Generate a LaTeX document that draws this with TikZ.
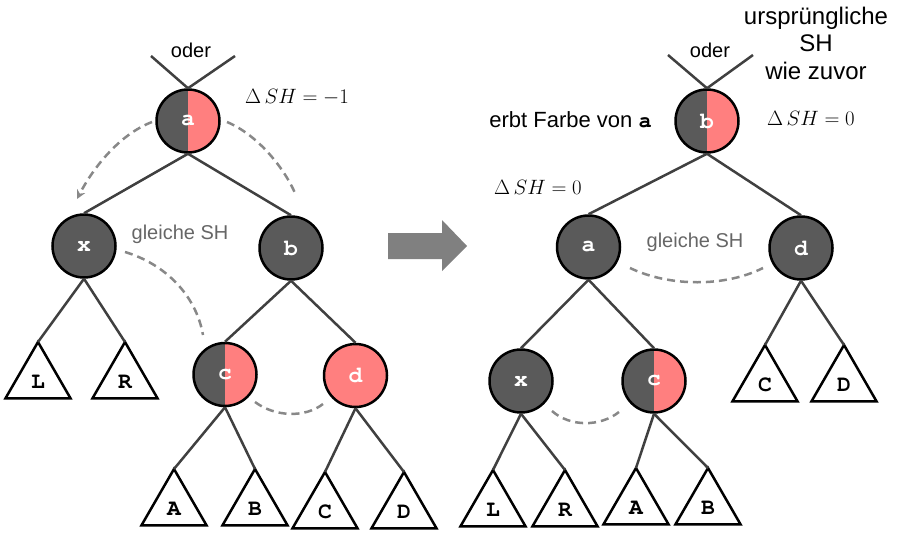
\documentclass[tikz,border=0pt]{standalone}
\usepackage{fontspec}
\setmainfont{Liberation Sans}
\newfontfamily\cour{TeX Gyre Cursor}
\usetikzlibrary{arrows.meta,shapes.geometric}
\definecolor{nodedark}{HTML}{5A5A5A}
\definecolor{nodered}{HTML}{FF7F7F}
\definecolor{edgecol}{HTML}{404040}
\definecolor{dashcol}{HTML}{888888}
\definecolor{arrcol}{HTML}{808080}
\definecolor{labgray}{HTML}{666666}
\begin{document}
\begin{tikzpicture}[x=1pt,y=-1pt,
  rb/.style={circle, draw=black, line width=2.5pt, minimum size=63pt, inner sep=0pt,
    fill=nodedark, text=white, font=\cour\bfseries\fontsize{23}{26}\selectfont},
  halfnode/.style={rb, fill=none, path picture={
    \fill[nodedark] (path picture bounding box.south west) rectangle (path picture bounding box.north);
    \fill[nodered] (path picture bounding box.south) rectangle (path picture bounding box.north east);}},
  rednode/.style={rb, fill=nodered},
  tri/.style={regular polygon, regular polygon sides=3, draw=black, line width=2.5pt,
    minimum size=75pt, inner sep=0pt, outer sep=0pt, text height=18pt, text depth=0pt,
    font=\cour\bfseries\fontsize{23}{26}\selectfont, text=black},
  edgeline/.style={draw=edgecol, line width=2.5pt},
  dsh/.style={draw=dashcol, line width=2.5pt, dash pattern=on 8pt off 5pt},
  txt/.style={font=\fontsize{20}{24}\selectfont, inner sep=0pt},
  mathtxt/.style={font=\fontsize{20.5}{24}\selectfont, inner sep=0pt},
]
\useasboundingbox (0,0) rectangle (899,541);

% ---------------- left tree ----------------
\node[halfnode] (La) at (188,121) {a};
\node[rb] (Lx) at (84,246) {x};
\node[rb] (Lb) at (291,248) {b};
\node[halfnode] (Lc) at (225,374.5) {c};
\node[rednode] (Ld) at (355.5,375.5) {d};

\node[tri] (LL) at (38,379.5) {L};
\node[tri] (LR) at (125,379.5) {R};
\node[tri] (LA) at (174,506.5) {A};
\node[tri] (LB) at (255,506.5) {B};
\node[tri] (LC) at (325,509.5) {C};
\node[tri] (LD) at (404,509.5) {D};

\coordinate (Lo1) at (151,56);
\coordinate (Lo2) at (235,56);
\draw[edgeline] (Lo1) -- (La.north);
\draw[edgeline] (Lo2) -- (La.north);
\node[txt] (Loder) at (191,50) {oder};

\draw[edgeline] (La.south) -- (Lx.north);
\draw[edgeline] (La.south) -- (Lb.north);
\draw[edgeline] (Lx.south) -- (LL.north);
\draw[edgeline] (Lx.south) -- (LR.north);
\draw[edgeline] (Lb.south) -- (Lc.north);
\draw[edgeline] (Lb.south) -- (Ld.north);
\draw[edgeline] (Lc.south) -- (LA.north);
\draw[edgeline] (Lc.south) -- (LB.north);
\draw[edgeline] (Ld.south) -- (LC.north);
\draw[edgeline] (Ld.south) -- (LD.north);

\node[mathtxt] (Ldelta) at (297,97) {$\Delta\,SH = -1$};
\node[txt, text=labgray] (Lgleich) at (180,234) {gleiche SH};

\coordinate (Ld1s) at (152,122);
\coordinate (Ld1e) at (77,199);
\draw[dsh, -{Stealth[length=9pt,width=9pt]}] (Ld1s) .. controls (118,135) and (92,170) .. (Ld1e);
\coordinate (Ld2s) at (227,122);
\coordinate (Ld2e) at (295,193);
\draw[dsh] (Ld2s) .. controls (258,135) and (284,168) .. (Ld2e);
\coordinate (Ld3s) at (125,252);
\coordinate (Ld3e) at (203,335);
\draw[dsh] (Ld3s) .. controls (165,264) and (196,295) .. (Ld3e);
\coordinate (Ld4s) at (255,402);
\coordinate (Ld4e) at (323,404);
\draw[dsh] (Ld4s) .. controls (275,417) and (305,418) .. (Ld4e);

% ---------------- big arrow ----------------
\fill[arrcol] (388,233) -- (442,233) -- (442,220) -- (467,246) -- (442,271) -- (442,259) -- (388,259) -- cycle;

% ---------------- right tree ----------------
\node[halfnode] (Rb) at (707,121) {b};
\node[rb] (Ra) at (588.5,247) {a};
\node[rb] (Rd) at (801,248) {d};
\node[rb] (Rx) at (521,381) {x};
\node[halfnode] (Rc) at (654,381) {c};

\node[tri] (RC) at (765,382.5) {C};
\node[tri] (RD) at (844,382.5) {D};
\node[tri] (RL) at (493,507.5) {L};
\node[tri] (RR) at (565,507.5) {R};
\node[tri] (RA) at (636,505.5) {A};
\node[tri] (RB) at (708,505.5) {B};

\coordinate (Ro1) at (668,55);
\coordinate (Ro2) at (753,55);
\draw[edgeline] (Ro1) -- (Rb.north);
\draw[edgeline] (Ro2) -- (Rb.north);
\node[txt] (Roder) at (710,50) {oder};

\draw[edgeline] (Rb.south) -- (Ra.north);
\draw[edgeline] (Rb.south) -- (Rd.north);
\draw[edgeline] (Ra.south) -- (Rx.north);
\draw[edgeline] (Ra.south) -- (Rc.north);
\draw[edgeline] (Rd.south) -- (RC.north);
\draw[edgeline] (Rd.south) -- (RD.north);
\draw[edgeline] (Rx.south) -- (RL.north);
\draw[edgeline] (Rx.south) -- (RR.north);
\draw[edgeline] (Rc.south) -- (RA.north);
\draw[edgeline] (Rc.south) -- (RB.north);

\node[font=\fontsize{24}{27.5}\selectfont, align=center, inner sep=0pt] (Rurs) at (816,43) {ursprüngliche\\SH\\wie zuvor};
\node[font=\fontsize{22}{26}\selectfont, inner sep=0pt, anchor=east] (Rerbt) at (652,120) {erbt Farbe von {\cour\bfseries a}};
\node[mathtxt] (Rdelta1) at (811,118) {$\Delta\,SH = 0$};
\node[mathtxt] (Rdelta2) at (538,187) {$\Delta\,SH = 0$};
\node[txt, text=labgray] (Rgleich) at (695,242) {gleiche SH};

\coordinate (Rd1s) at (630,268);
\coordinate (Rd1e) at (763,268);
\draw[dsh] (Rd1s) .. controls (670,287) and (725,287) .. (Rd1e);
\coordinate (Rd2s) at (552,411);
\coordinate (Rd2e) at (619,412);
\draw[dsh] (Rd2s) .. controls (570,427) and (600,427) .. (Rd2e);
\end{tikzpicture}
\end{document}
